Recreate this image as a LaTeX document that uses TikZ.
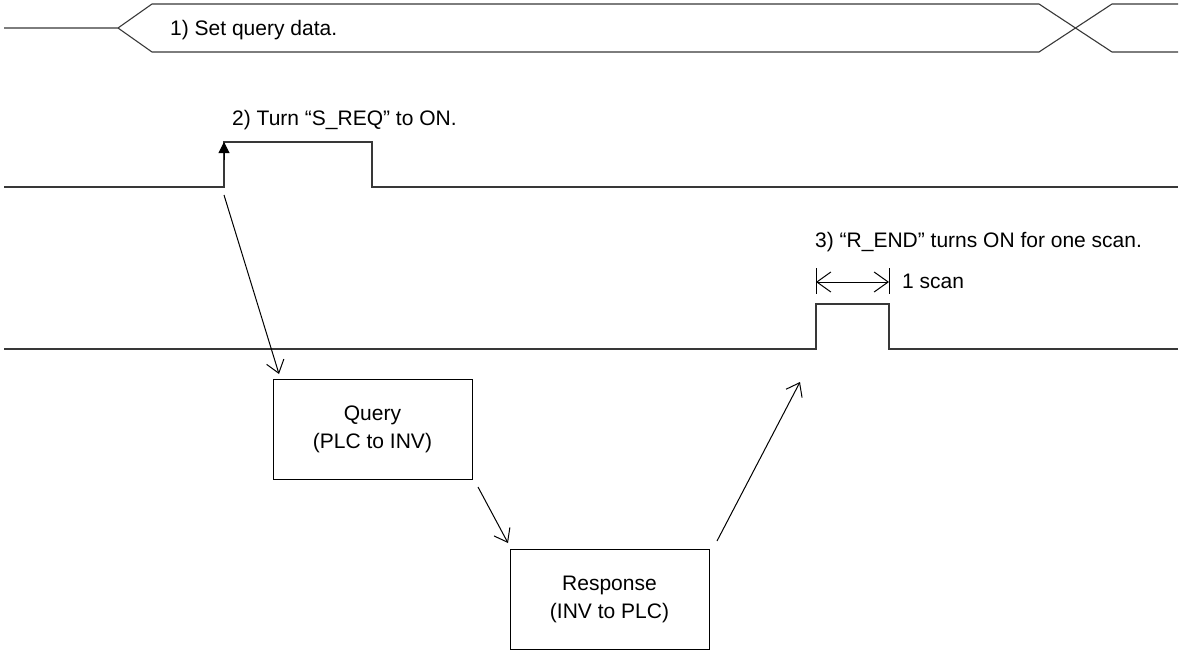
\documentclass[tikz,border=0pt]{standalone}
\usepackage{fontspec}
\setmainfont{Liberation Sans}
\usetikzlibrary{arrows.meta}
\begin{document}
\begin{tikzpicture}[x=1pt,y=-1pt,
  sig/.style={draw=black!78,line width=1.1pt},
  box/.style={draw=black,line width=1pt,minimum width=199pt,minimum height=100pt,align=center,font=\fontsize{21}{28}\selectfont,inner sep=0pt},
  lbl/.style={font=\fontsize{21}{25}\selectfont,inner sep=0pt,anchor=base west},
  flow/.style={draw=black,line width=1pt,-{Straight Barb[length=12pt,width=18pt,line width=1pt]}},
  dimarr/.style={draw=black,line width=1pt,{Straight Barb[length=14pt,width=20pt,line width=1pt]}-{Straight Barb[length=14pt,width=20pt,line width=1pt]}}]
\useasboundingbox (0,0) rectangle (1179,651);

% data bus: query data
\draw[sig] (4,28) -- (118,28) -- (152,4) -- (1039,4) -- (1112,52) -- (1178,52);
\draw[sig] (118,28) -- (152,52) -- (1039,52) -- (1112,4) -- (1178,4);
\node[lbl] (t1) at (170,35) {1) Set query data.};

% S_REQ signal
\draw[sig] (4,187) -- (224,187) -- (224,142) -- (372,142) -- (372,187) -- (1178,187);
\draw[line width=1pt,-{Triangle[length=11pt,width=11pt]}] (224,160) -- (224,142);
\node[lbl] (t2) at (232,125) {2) Turn “S\_REQ” to ON.};

% R_END signal
\draw[sig] (4,349) -- (816,349) -- (816,304) -- (889,304) -- (889,349) -- (1178,349);
\node[lbl] (t3) at (815,247) {3) “R\_END” turns ON for one scan.};
\coordinate (d1) at (816,282);
\coordinate (d2) at (889,282);
\draw[line width=1pt] (816,268) -- (816,294);
\draw[line width=1pt] (889,268) -- (889,294);
\draw[dimarr] (d1) -- (d2);
\node[lbl] (t4) at (902,288) {1 scan};

% transfer blocks
\node[box] (q) at (372.5,429) {Query\\(PLC to INV)};
\node[box] (r) at (609.5,599.5) {Response\\(INV to PLC)};

% sequence arrows
\coordinate (a1s) at (224,195);
\coordinate (a1e) at (279,374);
\coordinate (a2s) at (478,487);
\coordinate (a2e) at (508,543);
\coordinate (a3s) at (717,541);
\coordinate (a3e) at (800,382);
\draw[flow] (a1s) -- (a1e);
\draw[flow] (a2s) -- (a2e);
\draw[flow] (a3s) -- (a3e);
\end{tikzpicture}
\end{document}
